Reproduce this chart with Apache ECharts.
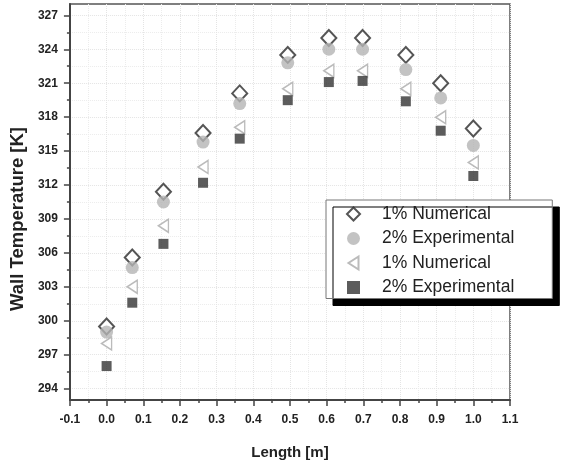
<!DOCTYPE html>
<html>
<head>
<meta charset="utf-8">
<script src="https://cdn.jsdelivr.net/npm/echarts@6/dist/echarts.min.js"></script>
<style>
  html, body { margin: 0; padding: 0; background: #fff; }
  #chart { width: 578px; height: 465px; }
</style>
</head>
<body>
<div id="chart"></div>
<script>
// lengths along the wall [m]
var lengths = [0, 0.07, 0.155, 0.263, 0.363, 0.494, 0.606, 0.698, 0.816, 0.911, 1.0]
// wall temperatures [K]
var num1 = [299.5, 305.6, 311.4, 316.6, 320.1, 323.5, 325.0, 325.0, 323.5, 321.0, 317.0]
var exp2 = [299.0, 304.7, 310.5, 315.8, 319.2, 322.8, 324.0, 324.0, 322.2, 319.7, 315.5]
var num1b = [298.0, 303.0, 308.4, 313.6, 317.1, 320.5, 322.1, 322.1, 320.5, 318.0, 314.0]
var exp2b = [296.0, 301.6, 306.8, 312.2, 316.1, 319.5, 321.1, 321.2, 319.4, 316.8, 312.8]

var yTicks = [294, 297, 300, 303, 306, 309, 312, 315, 318, 321, 324, 327]
var yMinor = [295.5, 298.5, 301.5, 304.5, 307.5, 310.5, 313.5, 316.5, 319.5, 322.5, 325.5]

function pairs(ys) {
  return lengths.map(function (x, i) { return [x, ys[i]] })
}

var FONT = 'Liberation Sans, Arial, sans-serif'
var labelFont = { color: '#222', fontWeight: 'bold', fontSize: 12, fontFamily: FONT }

var myChart = echarts.init(document.getElementById('chart'))
var option = {
  animation: false,
  backgroundColor: '#fff',
  grid: {
    left: 69, right: 68, top: 4, bottom: 64,
    show: true, borderColor: '#555', borderWidth: 1.5, backgroundColor: 'transparent'
  },
  legend: {
    orient: 'vertical',
    left: 326, top: 200,
    padding: [3, 38, 0, 20],
    itemWidth: 13, itemHeight: 13, itemGap: 2.5,
    backgroundColor: '#fff',
    borderColor: '#777', borderWidth: 1,
    shadowColor: '#000', shadowBlur: 0, shadowOffsetX: 7, shadowOffsetY: 7,
    formatter: function (name) { return name.trim() },
    textStyle: {
      fontSize: 17.5, color: '#222', lineHeight: 22,
      fontFamily: FONT,
      padding: [0, 0, 0, 17]
    }
  },
  xAxis: {
    type: 'value', min: -0.1, max: 1.1, interval: 0.1,
    name: 'Length [m]', nameLocation: 'middle', nameGap: 45,
    nameTextStyle: { color: '#222', fontWeight: 'bold', fontSize: 15, fontFamily: FONT },
    axisLine: { onZero: false, lineStyle: { color: '#444', width: 2 } },
    axisTick: { length: 6, lineStyle: { color: '#444', width: 1.5 } },
    minorTick: { show: true, splitNumber: 2, length: 3, lineStyle: { color: '#444', width: 1.5 } },
    axisLabel: Object.assign({ margin: 14, formatter: function (v) { return v.toFixed(1) } }, labelFont),
    splitLine: { show: true, lineStyle: { color: '#e4e4e4', width: 1, type: 'dotted' } },
    minorSplitLine: { show: true, lineStyle: { color: '#ececec', width: 1, type: 'dotted' } }
  },
  yAxis: [{
    type: 'value', min: 293, max: 328,
    name: 'Wall Temperature [K]', nameLocation: 'middle', nameGap: 36,
    nameTextStyle: { color: '#222', fontWeight: 'bold', fontSize: 18.5, fontFamily: FONT, padding: [0, 34, 0, 0] },
    axisLine: { show: true, onZero: false, lineStyle: { color: '#444', width: 2 } },
    axisTick: { length: 6, customValues: yTicks, lineStyle: { color: '#444', width: 1.5 } },
    axisLabel: Object.assign({ margin: 12, customValues: yTicks }, labelFont),
    splitLine: { show: true, lineStyle: { color: '#e4e4e4', width: 1, type: 'dotted' } }
  }, {
    type: 'value', min: 293, max: 328, position: 'left',
    axisLine: { show: false, onZero: false },
    axisTick: { show: true, length: 3, customValues: yMinor, lineStyle: { color: '#444', width: 1.5 } },
    axisLabel: { show: false },
    splitLine: { show: true, lineStyle: { color: '#ececec', width: 1, type: 'dotted' } }
  }],
  series: [{
    name: '1% Numerical', type: 'scatter', data: pairs(num1), z: 3,
    symbol: 'diamond', symbolSize: [15, 16],
    itemStyle: { color: '#fff', borderColor: '#2a2a2a', borderWidth: 2 }
  }, {
    name: '2% Experimental', type: 'scatter', data: pairs(exp2), z: 4,
    symbol: 'circle', symbolSize: 13,
    itemStyle: { color: '#b4b4b4' }
  }, {
    name: '1% Numerical ', type: 'scatter', data: pairs(num1b), z: 5,
    symbol: 'path://M10,0 L0,6.5 L10,13 Z', symbolSize: [10, 13],
    itemStyle: { color: '#fff', borderColor: '#aaa', borderWidth: 1.5 }
  }, {
    name: '2% Experimental ', type: 'scatter', data: pairs(exp2b), z: 6,
    symbol: 'rect', symbolSize: 10,
    itemStyle: { color: '#333' }
  }]
}
myChart.setOption(option)
</script>
</body>
</html>
